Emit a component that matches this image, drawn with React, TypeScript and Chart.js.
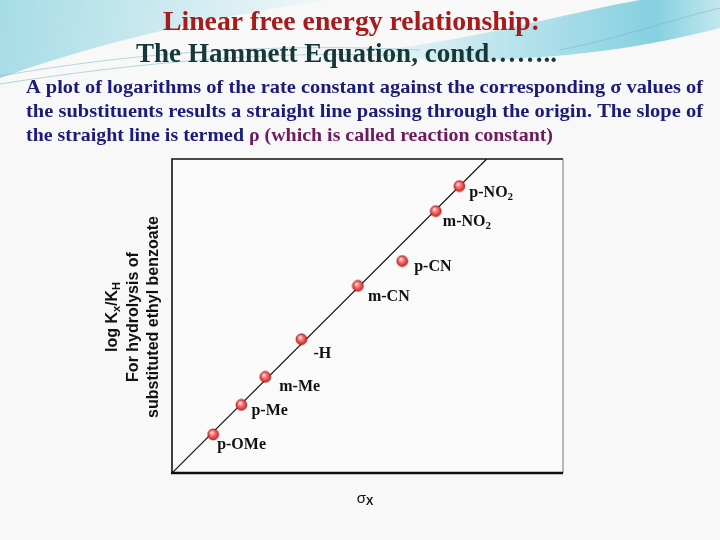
import { useEffect, useRef } from "react";
import { Chart, registerables } from "chart.js";

Chart.register(...registerables);

// ---- data (in plot units) ----
const substituents = ["p-OMe", "p-Me", "m-Me", "-H", "m-CN", "p-CN", "m-NO2", "p-NO2"];
const sigmaX = [1.31, 2.21, 2.97, 4.12, 5.92, 7.33, 8.4, 9.15];
const logKxKH = [1.23, 2.17, 3.06, 4.26, 5.96, 6.75, 8.34, 9.14];
const fitSigma = [0, 10.02];
const fitLog = [0, 10];
const xMax = 12.45;
const yMax = 10;

// label placement offsets (px) relative to each point
const labelDx = [4, 10, 14, 12, 10, 12, 7, 10];
const labelDy = [10, 6, 10, 15, 11, 6, 11, 7];

type Seg = { text: string; font: string; color: string; dy?: number };

function segWidth(ctx: CanvasRenderingContext2D, segs: Seg[]) {
  let w = 0;
  for (const s of segs) {
    ctx.font = s.font;
    w += ctx.measureText(s.text).width;
  }
  return w;
}

function drawSegs(ctx: CanvasRenderingContext2D, segs: Seg[], x: number, y: number) {
  let cx = x;
  for (const s of segs) {
    ctx.font = s.font;
    ctx.fillStyle = s.color;
    ctx.fillText(s.text, cx, y + (s.dy || 0));
    cx += ctx.measureText(s.text).width;
  }
}

function drawFit(ctx: CanvasRenderingContext2D, segs: Seg[], x: number, y: number, target: number) {
  const w = segWidth(ctx, segs);
  ctx.save();
  ctx.translate(x, y);
  ctx.scale(target / w, 1);
  drawSegs(ctx, segs, 0, 0);
  ctx.restore();
}

function labelSegs(label: string): Seg[] {
  const m = label.match(/^(.*?)(\d+)$/);
  const font = "bold 16px 'Liberation Serif', 'Times New Roman', serif";
  const sub = "bold 11px 'Liberation Serif', 'Times New Roman', serif";
  if (m) {
    return [
      { text: m[1], font, color: "#111" },
      { text: m[2], font: sub, color: "#111", dy: 4 },
    ];
  }
  return [{ text: label, font, color: "#111" }];
}

export default function App() {
  const ref = useRef<HTMLCanvasElement>(null);

  useEffect(() => {
    const canvas = ref.current!;
    const ctx = canvas.getContext("2d")!;

    // red sphere marker
    const ball = document.createElement("canvas");
    ball.width = 13;
    ball.height = 13;
    const bc = ball.getContext("2d")!;
    const rg = bc.createRadialGradient(5, 4.5, 0.5, 6.5, 6.5, 6);
    rg.addColorStop(0, "#ffe0e0");
    rg.addColorStop(0.35, "#f77a7a");
    rg.addColorStop(0.8, "#e03434");
    rg.addColorStop(1, "#b01818");
    bc.beginPath();
    bc.arc(6.5, 6.5, 5.4, 0, Math.PI * 2);
    bc.fillStyle = rg;
    bc.fill();
    bc.lineWidth = 0.8;
    bc.strokeStyle = "#9a1414";
    bc.stroke();

    const bgPlugin = {
      id: "slideBg",
      beforeDraw(chart: any) {
        const c = chart.ctx as CanvasRenderingContext2D;
        c.save();
        c.fillStyle = "#f8f8f8";
        c.fillRect(0, 0, 720, 540);

        // left cyan blob
        let g = c.createLinearGradient(0, 0, 320, 40);
        g.addColorStop(0, "#a6dce6");
        g.addColorStop(0.6, "#d3ecf1");
        g.addColorStop(1, "#f0f7f8");
        c.beginPath();
        c.moveTo(0, 0);
        c.lineTo(330, 0);
        c.bezierCurveTo(230, 14, 110, 38, 0, 78);
        c.closePath();
        c.fillStyle = g;
        c.fill();

        // right cyan wave
        g = c.createLinearGradient(400, 0, 720, 0);
        g.addColorStop(0, "#e2f2f5");
        g.addColorStop(0.45, "#addfea");
        g.addColorStop(0.8, "#86d0e0");
        g.addColorStop(1, "#c4e7ee");
        c.beginPath();
        c.moveTo(360, 52);
        c.bezierCurveTo(470, 42, 560, 14, 640, 0);
        c.lineTo(720, 0);
        c.lineTo(720, 28);
        c.bezierCurveTo(650, 46, 560, 62, 430, 60);
        c.closePath();
        c.fillStyle = g;
        c.fill();

        // thin streaks
        c.strokeStyle = "rgba(110,180,195,0.5)";
        c.lineWidth = 1;
        c.beginPath();
        c.moveTo(0, 76);
        c.bezierCurveTo(120, 55, 260, 42, 420, 50);
        c.stroke();
        c.beginPath();
        c.moveTo(0, 84);
        c.bezierCurveTo(140, 62, 280, 50, 400, 56);
        c.stroke();
        c.beginPath();
        c.moveTo(560, 50);
        c.bezierCurveTo(620, 38, 670, 20, 720, 8);
        c.stroke();
        c.restore();

        // titles and paragraph
        c.save();
        c.textBaseline = "middle";
        c.textAlign = "left";
        const tf = "bold 28px 'Liberation Serif', 'Times New Roman', serif";
        drawFit(c, [{ text: "Linear free energy relationship:", font: tf, color: "#a61b1b" }], 163, 23, 377);
        drawFit(c, [{ text: "The Hammett Equation, contd……..", font: tf, color: "#163838" }], 136, 55, 421);
        const pf = "bold 19px 'Liberation Serif', 'Times New Roman', serif";
        const navy = "#1b1b7a";
        drawFit(c, [{ text: "A plot of logarithms of the rate constant against the corresponding σ values of", font: pf, color: navy }], 26, 88, 677);
        drawFit(c, [{ text: "the substituents results a straight line passing through the origin. The slope of", font: pf, color: navy }], 26, 112, 677);
        drawFit(
          c,
          [
            { text: "the straight line is termed ", font: pf, color: navy },
            { text: "ρ (which is called reaction constant)", font: pf, color: "#6e1a5e" },
          ],
          26,
          136,
          527
        );

        // y axis title (rotated)
        const af = "bold 16px 'Liberation Sans', Arial, sans-serif";
        const asub = "bold 11px 'Liberation Sans', Arial, sans-serif";
        const lines: Seg[][] = [
          [
            { text: "log K", font: af, color: "#111" },
            { text: "x", font: asub, color: "#111", dy: 4 },
            { text: "/K", font: af, color: "#111" },
            { text: "H", font: asub, color: "#111", dy: 4 },
          ],
          [{ text: "For hydrolysis of", font: af, color: "#111" }],
          [{ text: "substituted ethyl benzoate", font: af, color: "#111" }],
        ];
        const xs = [113, 134, 154];
        lines.forEach((segs, i) => {
          const w = segWidth(c, segs);
          c.save();
          c.translate(xs[i], 317);
          c.rotate(-Math.PI / 2);
          drawSegs(c, segs, -w / 2, 0);
          c.restore();
        });

        // x axis title
        const xsegs: Seg[] = [
          { text: "σ", font: "15px 'Liberation Sans', Arial, sans-serif", color: "#111" },
          { text: "X", font: "bold 11px 'Liberation Sans', Arial, sans-serif", color: "#111", dy: 3 },
        ];
        const xw = segWidth(c, xsegs);
        drawSegs(c, xsegs, 365 - xw / 2, 499);
        c.restore();
      },
    };

    const boxPlugin = {
      id: "plotBox",
      beforeDatasetsDraw(chart: any) {
        const c = chart.ctx as CanvasRenderingContext2D;
        const a = chart.chartArea;
        c.save();
        c.fillStyle = "#fafafa";
        c.fillRect(a.left, a.top, a.right - a.left, a.bottom - a.top);
        c.strokeStyle = "#111";
        c.lineWidth = 1.6;
        c.beginPath();
        c.moveTo(a.left, a.bottom);
        c.lineTo(a.left, a.top);
        c.lineTo(a.right, a.top);
        c.stroke();
        c.lineWidth = 1;
        c.strokeStyle = "#777";
        c.beginPath();
        c.moveTo(a.right, a.top);
        c.lineTo(a.right, a.bottom);
        c.stroke();
        c.lineWidth = 2.4;
        c.strokeStyle = "#111";
        c.beginPath();
        c.moveTo(a.left - 1, a.bottom);
        c.lineTo(a.right, a.bottom);
        c.stroke();
        c.restore();
      },
    };

    const labelPlugin = {
      id: "pointLabels",
      afterDatasetsDraw(chart: any) {
        const c = chart.ctx as CanvasRenderingContext2D;
        const sx = chart.scales.x;
        const sy = chart.scales.y;
        c.save();
        c.textBaseline = "middle";
        c.textAlign = "left";
        substituents.forEach((lab, i) => {
          const px = sx.getPixelForValue(sigmaX[i]);
          const py = sy.getPixelForValue(logKxKH[i]);
          drawSegs(c, labelSegs(lab), px + labelDx[i], py + labelDy[i]);
        });
        c.restore();
      },
    };

    const chart = new Chart(ctx, {
      type: "scatter",
      data: {
        datasets: [
          {
            data: fitSigma.map((x, i) => ({ x, y: fitLog[i] })),
            showLine: true,
            borderColor: "#111",
            borderWidth: 1.2,
            pointRadius: 0,
            order: 1,
          },
          {
            data: sigmaX.map((x, i) => ({ x, y: logKxKH[i] })),
            pointStyle: ball as any,
            pointRadius: 6,
            order: 0,
          },
        ],
      },
      options: {
        animation: false,
        responsive: false,
        devicePixelRatio: 1,
        events: [],
        layout: { padding: { left: 172, right: 157, top: 159, bottom: 67 } },
        plugins: {
          legend: { display: false },
          tooltip: { enabled: false },
          title: { display: false },
        },
        scales: {
          x: { type: "linear", min: 0, max: xMax, display: false },
          y: { type: "linear", min: 0, max: yMax, display: false },
        },
      },
      plugins: [bgPlugin, boxPlugin, labelPlugin],
    });

    return () => chart.destroy();
  }, []);

  return (
    <div style={{ position: "fixed", left: 0, top: 0, width: 720, height: 540 }}>
      <canvas ref={ref} width={720} height={540} style={{ display: "block", width: 720, height: 540 }} />
    </div>
  );
}
